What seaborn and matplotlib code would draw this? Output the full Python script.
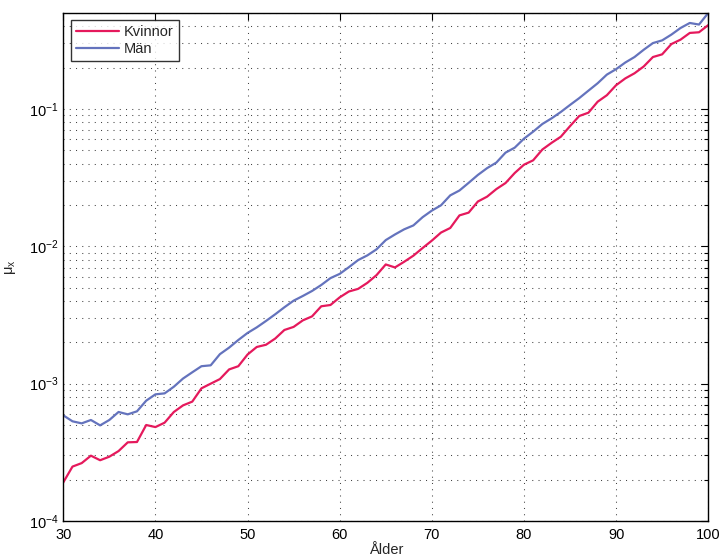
import numpy as np
import pandas as pd
import matplotlib
matplotlib.use("Agg")
import matplotlib.pyplot as plt
from matplotlib.ticker import LogLocator, FixedLocator
import seaborn as sns

# Ages (years)
ages = list(range(30, 101))

# Mortality intensity, women
kvinnor = [
    1.91e-4, 2.49e-4, 2.64e-4, 2.99e-4, 2.77e-4, 2.94e-4, 3.23e-4, 3.74e-4, 3.76e-4, 5.00e-4,
    4.83e-4, 5.20e-4, 6.22e-4, 6.95e-4, 7.40e-4, 9.25e-4, 1.00e-3, 1.08e-3, 1.27e-3, 1.34e-3,
    1.63e-3, 1.85e-3, 1.92e-3, 2.13e-3, 2.46e-3, 2.59e-3, 2.89e-3, 3.09e-3, 3.66e-3, 3.74e-3,
    4.25e-3, 4.69e-3, 4.90e-3, 5.42e-3, 6.17e-3, 7.38e-3, 7.02e-3, 7.72e-3, 8.55e-3, 9.72e-3,
    1.10e-2, 1.26e-2, 1.36e-2, 1.68e-2, 1.76e-2, 2.12e-2, 2.30e-2, 2.61e-2, 2.89e-2, 3.42e-2,
    3.93e-2, 4.23e-2, 5.07e-2, 5.67e-2, 6.28e-2, 7.50e-2, 8.89e-2, 9.40e-2, 0.113, 0.126,
    0.149, 0.167, 0.182, 0.204, 0.239, 0.250, 0.297, 0.320, 0.358, 0.362,
    0.408,
]

# Mortality intensity, men
man = [
    5.88e-4, 5.32e-4, 5.14e-4, 5.44e-4, 4.97e-4, 5.44e-4, 6.22e-4, 5.98e-4, 6.29e-4, 7.52e-4,
    8.36e-4, 8.50e-4, 9.50e-4, 1.09e-3, 1.21e-3, 1.34e-3, 1.36e-3, 1.64e-3, 1.83e-3, 2.08e-3,
    2.34e-3, 2.57e-3, 2.86e-3, 3.20e-3, 3.60e-3, 4.02e-3, 4.35e-3, 4.73e-3, 5.23e-3, 5.87e-3,
    6.30e-3, 7.05e-3, 7.94e-3, 8.59e-3, 9.51e-3, 1.11e-2, 1.22e-2, 1.33e-2, 1.42e-2, 1.63e-2,
    1.82e-2, 1.99e-2, 2.35e-2, 2.55e-2, 2.90e-2, 3.31e-2, 3.71e-2, 4.07e-2, 4.81e-2, 5.23e-2,
    6.08e-2, 6.84e-2, 7.78e-2, 8.55e-2, 9.51e-2, 0.107, 0.120, 0.136, 0.154, 0.178,
    0.195, 0.218, 0.239, 0.270, 0.302, 0.316, 0.348, 0.389, 0.423, 0.412,
    0.500,
]

series_names = ["Kvinnor", "Män"]
x_ticks = [30, 40, 50, 60, 70, 80, 90, 100]

df = pd.DataFrame({
    "Ålder": ages * 2,
    "mu": kvinnor + man,
    "Kön": [series_names[0]] * len(ages) + [series_names[1]] * len(ages),
})

sns.set_theme(style="white")
plt.rcParams["font.family"] = ["Liberation Sans", "DejaVu Sans"]
plt.rcParams["mathtext.fontset"] = "custom"
plt.rcParams["mathtext.rm"] = "Liberation Sans"
plt.rcParams["mathtext.it"] = "Liberation Sans:italic"
plt.rcParams["mathtext.default"] = "regular"

fig = plt.figure(figsize=(7.19, 5.58), dpi=100)
ax = fig.add_axes([0.088, 0.0663, 0.897, 0.9104])

palette = {"Kvinnor": "#E5195C", "Män": "#6473BD"}
sns.lineplot(data=df, x="Ålder", y="mu", hue="Kön", palette=palette,
             linewidth=1.6, ax=ax)

ax.set_yscale("log")
ax.set_xlim(30, 100)
ax.set_ylim(1e-4, 0.5)
ax.xaxis.set_major_locator(FixedLocator(x_ticks))
ax.yaxis.set_major_locator(LogLocator(base=10))
ax.yaxis.set_minor_locator(LogLocator(base=10, subs=np.arange(2, 10)))
ax.yaxis.set_minor_formatter(plt.NullFormatter())

grid_kw = dict(color="#444444", linestyle=(0, (1, 5)), linewidth=0.75)
ax.grid(True, which="major", axis="both", **grid_kw)
ax.grid(True, which="minor", axis="y", **grid_kw)

ax.tick_params(which="both", direction="in", top=True, right=True,
               labelsize=10.5, colors="black", width=0.8)
ax.tick_params(which="major", length=5)
ax.tick_params(which="minor", length=3)
ax.tick_params(axis="x", which="major", pad=5)
for sp in ax.spines.values():
    sp.set_visible(True)
    sp.set_color("black")
    sp.set_linewidth(1.0)

ax.set_xlabel("Ålder", fontsize=10.5, labelpad=1)
ax.set_ylabel(r"$\mu_x$", fontsize=10.5, labelpad=8)

leg = ax.legend(loc="upper left", fontsize=10.5, frameon=True, fancybox=False,
                handlelength=3.0, borderpad=0.35, labelspacing=0.2,
                handletextpad=0.3, borderaxespad=0.5, title=None)
leg.get_frame().set_edgecolor("black")
leg.get_frame().set_linewidth(1.0)

fig.savefig("out.png", dpi=100)
